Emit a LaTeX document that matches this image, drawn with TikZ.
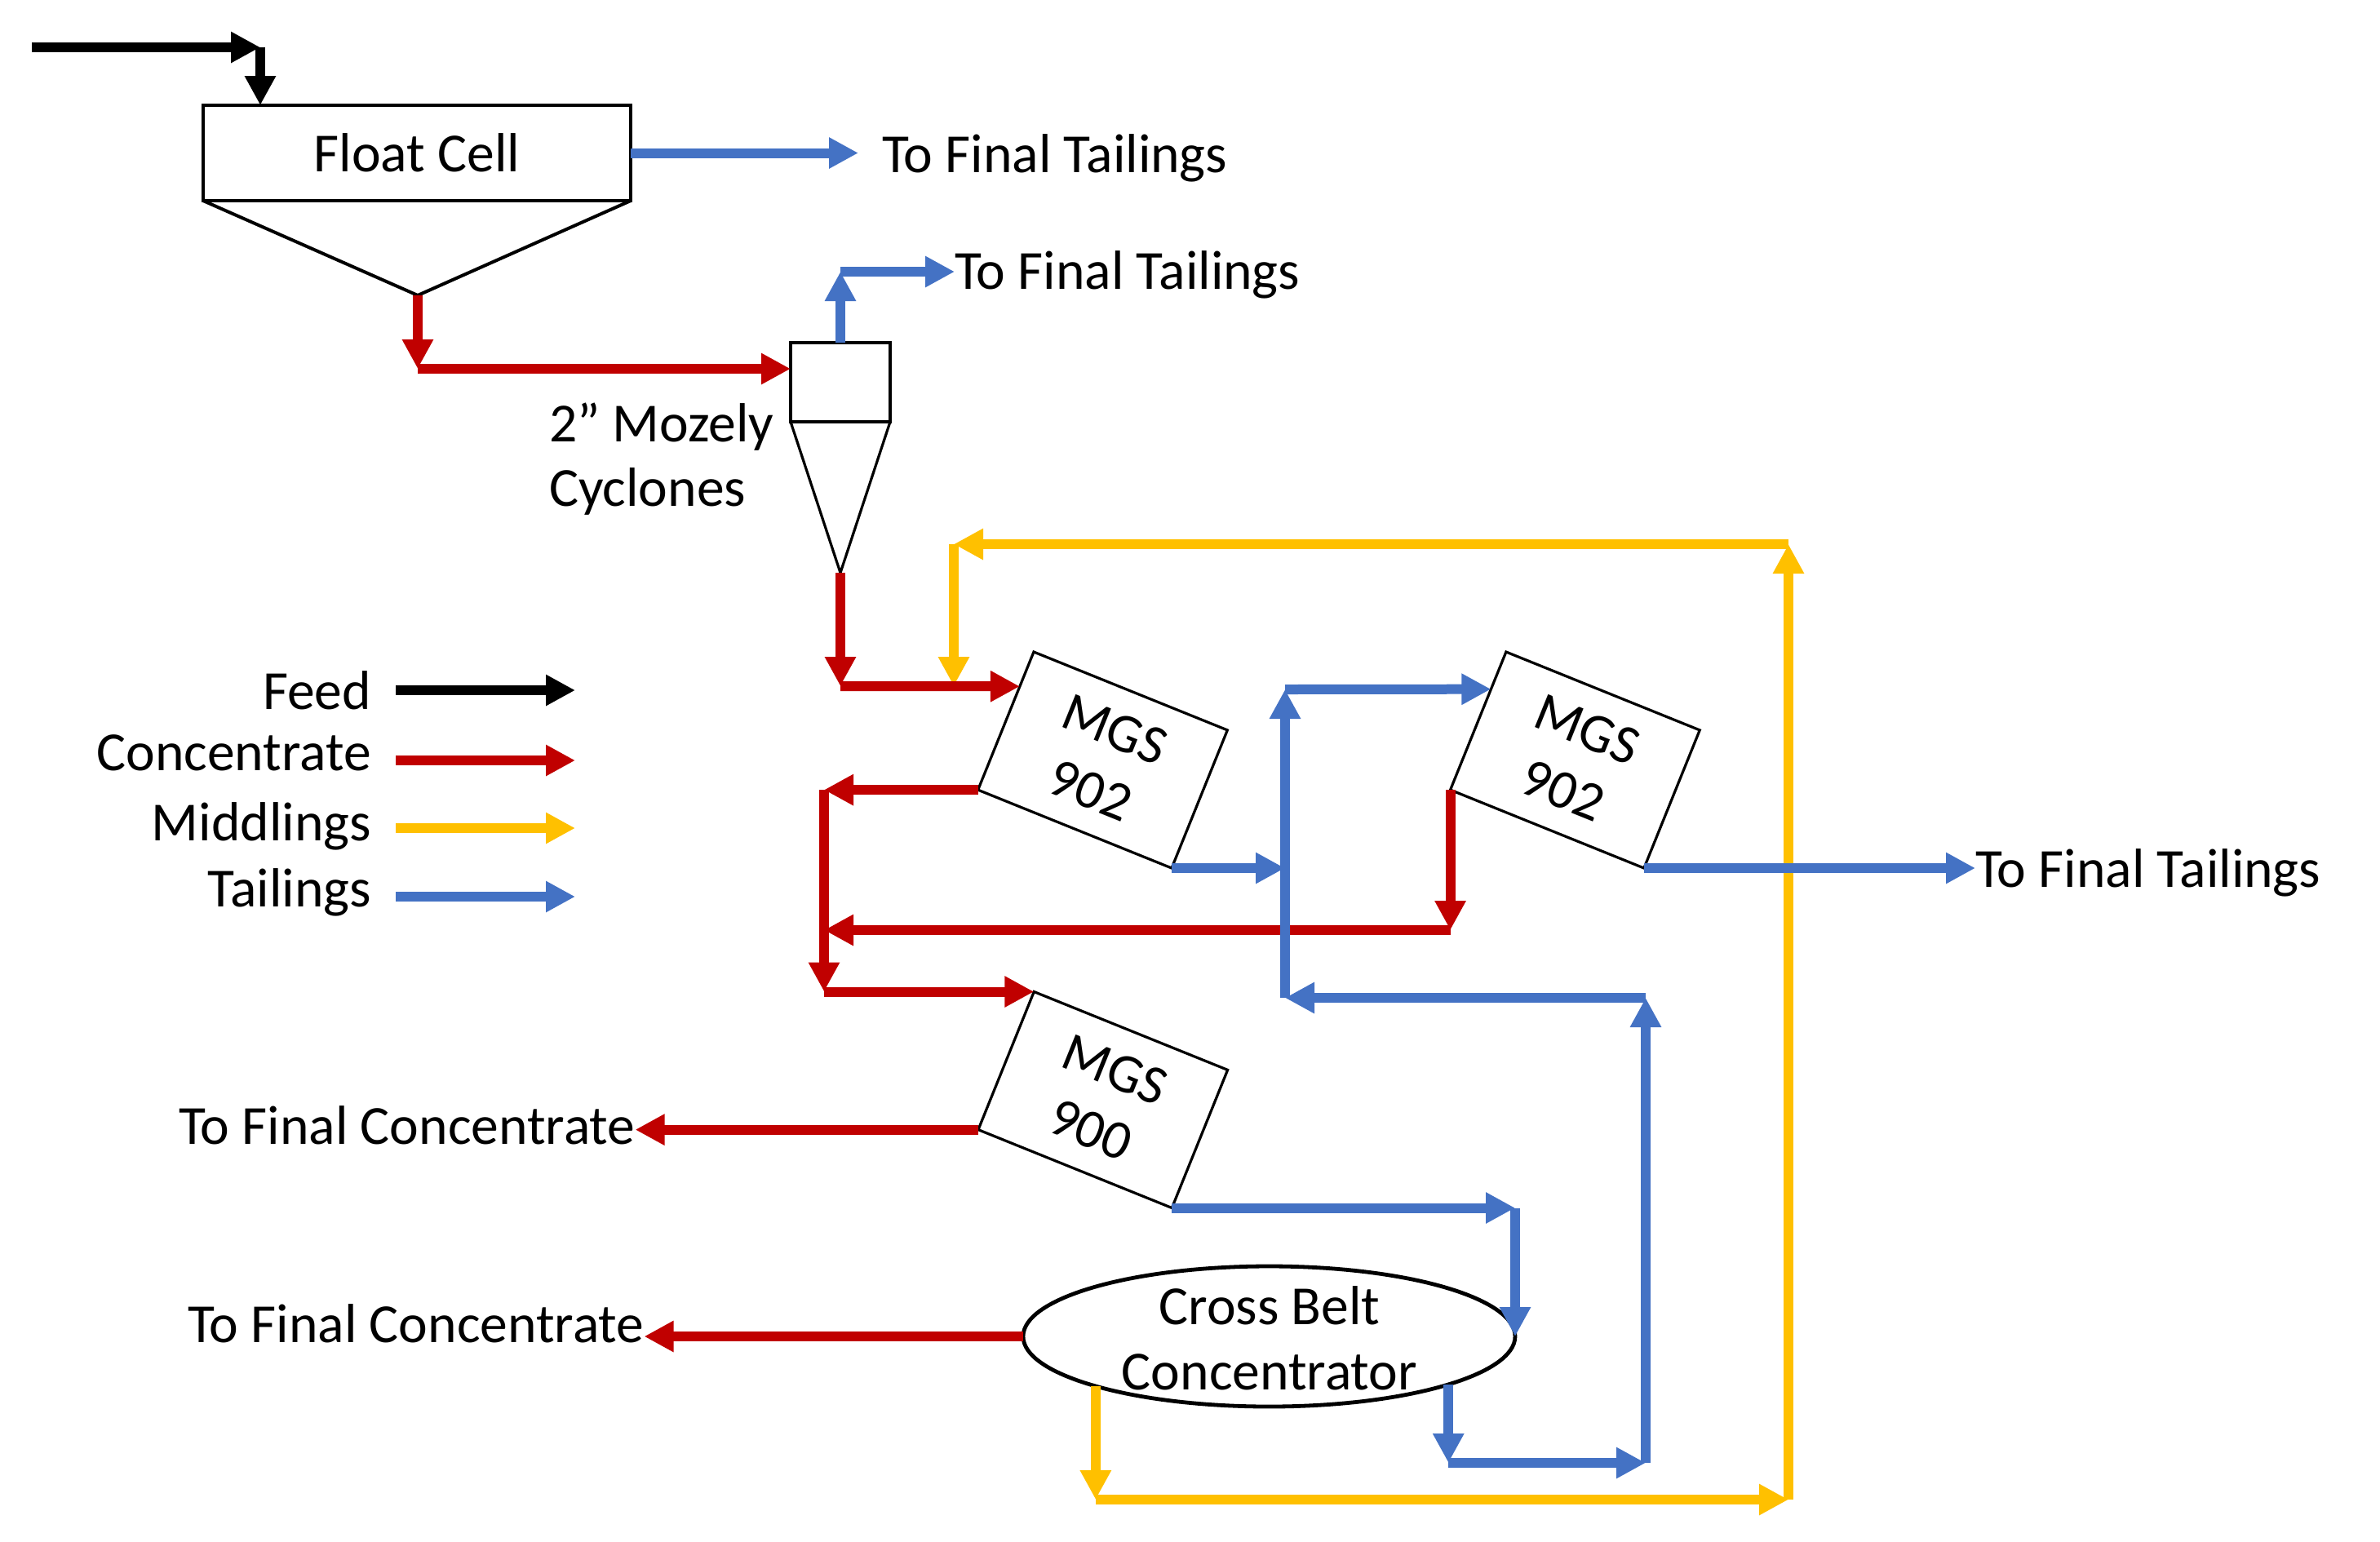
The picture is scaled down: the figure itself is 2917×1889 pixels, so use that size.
\documentclass[tikz,border=0pt]{standalone}
\usepackage{fontspec}
\setmainfont{Carlito}
\usetikzlibrary{arrows.meta,shapes.geometric,calc}
\definecolor{concred}{RGB}{192,0,0}
\definecolor{midyel}{RGB}{255,192,0}
\definecolor{tailblue}{RGB}{68,114,196}
\begin{document}
\begin{tikzpicture}[x=0.25pt,y=-0.25pt,
  every node/.style={font=\fontsize{16.9}{20}\selectfont, inner sep=0pt, outer sep=0pt},
  flow/.style={line width=3pt, -{Triangle[length=9pt,width=9pt]}},
  feedf/.style={flow, draw=black},
  concf/.style={flow, draw=concred},
  midf/.style={flow, draw=midyel},
  tailf/.style={flow, draw=tailblue},
  unitbox/.style={draw, line width=1.2pt, rectangle},
  mgs/.style={draw, line width=0.8pt, rectangle, rotate=-22, minimum width=64pt, minimum height=45.6pt, align=center},
  lbl/.style={anchor=base west},
  leg/.style={anchor=base east}]
\useasboundingbox (0,0) rectangle (2917,1889);

% ---------- units ----------
\node[unitbox, minimum width=131pt, minimum height=29.25pt] (fc) at (511,187.5) {Float Cell};
\coordinate (fcapex) at (512,362);
\draw[line width=1pt] (fc.south west) -- (fcapex) -- (fc.south east);

\node[unitbox, minimum width=30.5pt, minimum height=24.25pt] (cy) at (1030,468.5) {};
\coordinate (cyapex) at (1030,702);
\draw[line width=0.8pt] (cy.south west) -- (cyapex) -- (cy.south east);

\node[mgs] (m1) at (1351.5,931.5) {MGS\\902};
\node[mgs] (m2) at (1930.4,931.5) {MGS\\902};
\node[mgs] (m3) at (1351.8,1348) {MGS\\900};

\node[draw, ellipse, line width=1.2pt, minimum width=150.75pt, minimum height=43pt] (cbc) at (1555.5,1638) {};
\node[align=center] (cbct) at (1556,1640) {Cross Belt\\Concentrator};

% ---------- labels ----------
\node[lbl] (t1) at (1081,211) {To Final Tailings};
\node[lbl] (t2) at (1170,354) {To Final Tailings};
\node[lbl] (t3) at (2421,1087) {To Final Tailings};
\node[lbl] (c1) at (219,1402) {To Final Concentrate};
\node[lbl] (c2) at (230,1645) {To Final Concentrate};
\node[lbl] (cyl1) at (673,541) {2” Mozely};
\node[lbl] (cyl2) at (673,620) {Cyclones};

% ---------- legend ----------
\node[leg] (lf) at (455,869) {Feed};
\node[leg] (lc) at (455,944) {Concentrate};
\node[leg] (lm) at (455,1030) {Middlings};
\node[leg] (lt) at (455,1111) {Tailings};
\coordinate (lfa) at (485,846);  \coordinate (lfb) at (705,846);
\coordinate (lca) at (485,932);  \coordinate (lcb) at (705,932);
\coordinate (lma) at (485,1015); \coordinate (lmb) at (705,1015);
\coordinate (lta) at (485,1099); \coordinate (ltb) at (705,1099);
\draw[feedf] (lfa) -- (lfb);
\draw[concf] (lca) -- (lcb);
\draw[midf] (lma) -- (lmb);
\draw[tailf] (lta) -- (ltb);

% ---------- middlings ----------
\coordinate (ybr) at (2192,1838);
\coordinate (ytr) at (2192,667);
\coordinate (ytl) at (1169,667);
\coordinate (yin) at (1169,841);
\draw[midf] (cbc.196) -- (cbc.196 |- ybr);
\draw[midf] (cbc.196 |- ybr) -- (ybr);
\draw[midf] (ybr) -- (ytr);
\draw[midf] (ytr) -- (ytl);
\draw[midf] (ytl) -- (yin);

% ---------- concentrate ----------
\coordinate (r1c) at (512,452);
\draw[concf] (fcapex) -- (r1c);
\draw[concf] (r1c) -- (r1c -| cy.west);
\coordinate (r2c) at (1030,841);
\draw[concf] (cyapex) -- (r2c);
\draw[concf] (r2c) -- ($(m1.north west)!0.25!(m1.south west)$);
\coordinate (rl) at (1010,1140);
\draw[concf] (m1.south west) -- (m1.south west -| rl);
\draw[concf] (m1.south west -| rl) -- (rl |- m3.north west);
\draw[concf] (rl |- m3.north west) -- (m3.north west);
\draw[concf] (m2.south west) -- (m2.south west |- rl);
\draw[concf] (m2.south west |- rl) -- (rl);
\draw[concf] (m3.south west) -- (m3.south west -| c1.east);
\draw[concf] (cbc.west) -- (cbc.west -| c2.east);

% ---------- tailings ----------
\coordinate (bt1) at (1052,187.5);
\draw[tailf] (fc.east) -- (bt1);
\coordinate (bc1) at (1030,333);
\draw[tailf] (cy.north) -- (bc1);
\draw[tailf] (bc1) -- (bc1 -| t2.west);
\coordinate (bv) at (1575,1223);
\coordinate (bvt) at (1575,845);
\draw[tailf] (m1.south east) -- (m1.south east -| bv);
\draw[tailf] (bv) -- (bvt);
\draw[tailf] (bvt) -- ($(m2.north west)!0.27!(m2.south west)$);
\draw[tailf] (m2.south east) -- (m2.south east -| t3.west);
\coordinate (bre) at (2017,1793);
\draw[tailf] (cbc.345) -- (cbc.345 |- bre);
\draw[tailf] (cbc.345 |- bre) -- (bre);
\draw[tailf] (bre) -- (bre |- bv);
\draw[tailf] (bre |- bv) -- (bv);
\draw[tailf] (m3.south east) -- (cbc.east |- m3.south east);
\draw[tailf] (cbc.east |- m3.south east) -- (cbc.east);

% ---------- feed ----------
\coordinate (fa) at (39,58);
\coordinate (fb) at (319,58);
\draw[feedf] (fa) -- (fb);
\draw[feedf] (fb) -- (fb |- fc.north);
\end{tikzpicture}
\end{document}
